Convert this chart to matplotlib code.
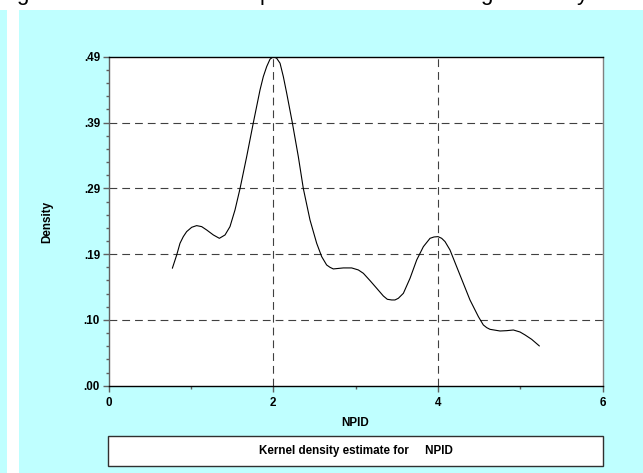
import matplotlib
matplotlib.use("Agg")
import matplotlib.pyplot as plt
from matplotlib.patches import Rectangle
import numpy as np

# ---- data ----
npid = [0.773, 0.826, 0.866, 0.906, 0.947, 1.008, 1.068, 1.129, 1.190, 1.271,
        1.344, 1.413, 1.473, 1.534, 1.595, 1.676, 1.757, 1.838, 1.878, 1.919,
        1.959, 2.000, 2.040, 2.081, 2.121, 2.162, 2.230, 2.303, 2.364, 2.445,
        2.526, 2.587, 2.647, 2.688, 2.728, 2.850, 2.951, 3.032, 3.093, 3.174,
        3.255, 3.336, 3.384, 3.437, 3.477, 3.518, 3.579, 3.660, 3.741, 3.822,
        3.903, 3.951, 4.000, 4.044, 4.085, 4.145, 4.226, 4.307, 4.388, 4.490,
        4.550, 4.591, 4.631, 4.753, 4.834, 4.915, 4.996, 5.057, 5.137, 5.231]
density = [0.1750, 0.1948, 0.2122, 0.2221, 0.2296, 0.2360, 0.2385, 0.2370, 0.2320, 0.2246,
           0.2196, 0.2246, 0.2370, 0.2618, 0.2936, 0.3413, 0.3919, 0.4406, 0.4604, 0.4753,
           0.4862, 0.4902, 0.4877, 0.4803, 0.4604, 0.4356, 0.3919, 0.3413, 0.2936, 0.2469,
           0.2122, 0.1923, 0.1799, 0.1764, 0.1740, 0.1755, 0.1755, 0.1725, 0.1675, 0.1566,
           0.1452, 0.1337, 0.1288, 0.1278, 0.1278, 0.1303, 0.1377, 0.1601, 0.1874, 0.2072,
           0.2196, 0.2216, 0.2221, 0.2196, 0.2147, 0.2023, 0.1774, 0.1526, 0.1278, 0.1030,
           0.0906, 0.0866, 0.0841, 0.0816, 0.0821, 0.0831, 0.0801, 0.0757, 0.0692, 0.0593]

x_ticks = [0, 2, 4, 6]
x_tick_labels = ["0", "2", "4", "6"]
y_ticks = [0.0, 0.098, 0.196, 0.294, 0.392, 0.49]
y_tick_labels = [".00", ".10", ".19", ".29", ".39", ".49"]
x_label = "NPID"
y_label = "Density"
legend_text = "Kernel density estimate for     NPID"

FONT = "Liberation Sans"
CYAN = "#BFFFFF"
W, H = 643, 473

fig = plt.figure(figsize=(W / 100, H / 100), dpi=100, facecolor=CYAN)

# page background pieces (white band at top, white vertical strip at left)
fig.patches.append(Rectangle((0, 1 - 10 / H), 1, 10 / H, transform=fig.transFigure,
                             facecolor="white", edgecolor="none", zorder=0))
fig.patches.append(Rectangle((7 / W, 0), 12 / W, 1, transform=fig.transFigure,
                             facecolor="white", edgecolor="none", zorder=0))

# cut-off caption descenders at the very top
for ch, px in [("g", 16), ("p", 260), ("g", 480), ("y", 577)]:
    fig.text(px / W, 1 + 0.5 / H, ch, fontsize=16, family="Liberation Sans",
             ha="left", va="baseline", color="black")

ax = fig.add_axes([108.7 / W, (H - 385.8) / H, (602.7 - 108.7) / W, (385.8 - 56.7) / H])
ax.set_facecolor("white")

ax.plot(npid, density, color="black", lw=0.8, zorder=3,
        solid_joinstyle="round", solid_capstyle="round")

ax.set_xlim(0, 6)
ax.set_ylim(0, 0.49)

# grid
for yv in y_ticks[1:-1]:
    ax.axhline(yv, color="#404040", lw=0.8, dashes=(7, 4.5), zorder=1)
for xv in x_ticks[1:-1]:
    ax.axvline(xv, color="#404040", lw=0.8, dashes=(7, 4.5), zorder=1)

ax.set_xticks(x_ticks)
ax.set_xticklabels(x_tick_labels)
ax.set_yticks(y_ticks)
ax.set_yticklabels(y_tick_labels)
ax.set_xticks([1, 3, 5], minor=True)
ax.set_yticks(np.arange(0, 0.49, 0.0196), minor=True)

ax.tick_params(which="major", direction="out", length=4.3, width=1, color="#606060",
               labelsize=8.4, pad=2)
ax.tick_params(which="minor", direction="out", length=2.2, width=1, color="#606060")
ax.tick_params(axis="x", which="major", pad=4)
for lab in ax.get_xticklabels() + ax.get_yticklabels():
    lab.set_fontfamily(FONT)
    lab.set_fontweight("bold")

ax.spines["left"].set_color("#606060")
ax.spines["right"].set_color("#808080")
ax.spines["top"].set_color("black")
ax.spines["bottom"].set_color("black")
for s in ax.spines.values():
    s.set_linewidth(1)

fig.text(47 / W, 1 - 222 / H, y_label, rotation=90, ha="center", va="center",
         fontsize=8.4, fontweight="bold", family=FONT)
fig.text(355 / W, 1 - 423 / H, x_label, ha="center", va="center",
         fontsize=8.4, fontweight="bold", family=FONT)

# legend box
fig.patches.append(Rectangle((108 / W, (H - 466) / H), 495 / W, 30 / H,
                             transform=fig.transFigure, facecolor="white",
                             edgecolor="#303030", lw=1, zorder=2))
fig.text(356 / W, 1 - 451 / H, legend_text, ha="center", va="center",
         fontsize=8.4, fontweight="bold", family=FONT, zorder=3)

fig.savefig("out.png", dpi=100, facecolor=CYAN)
